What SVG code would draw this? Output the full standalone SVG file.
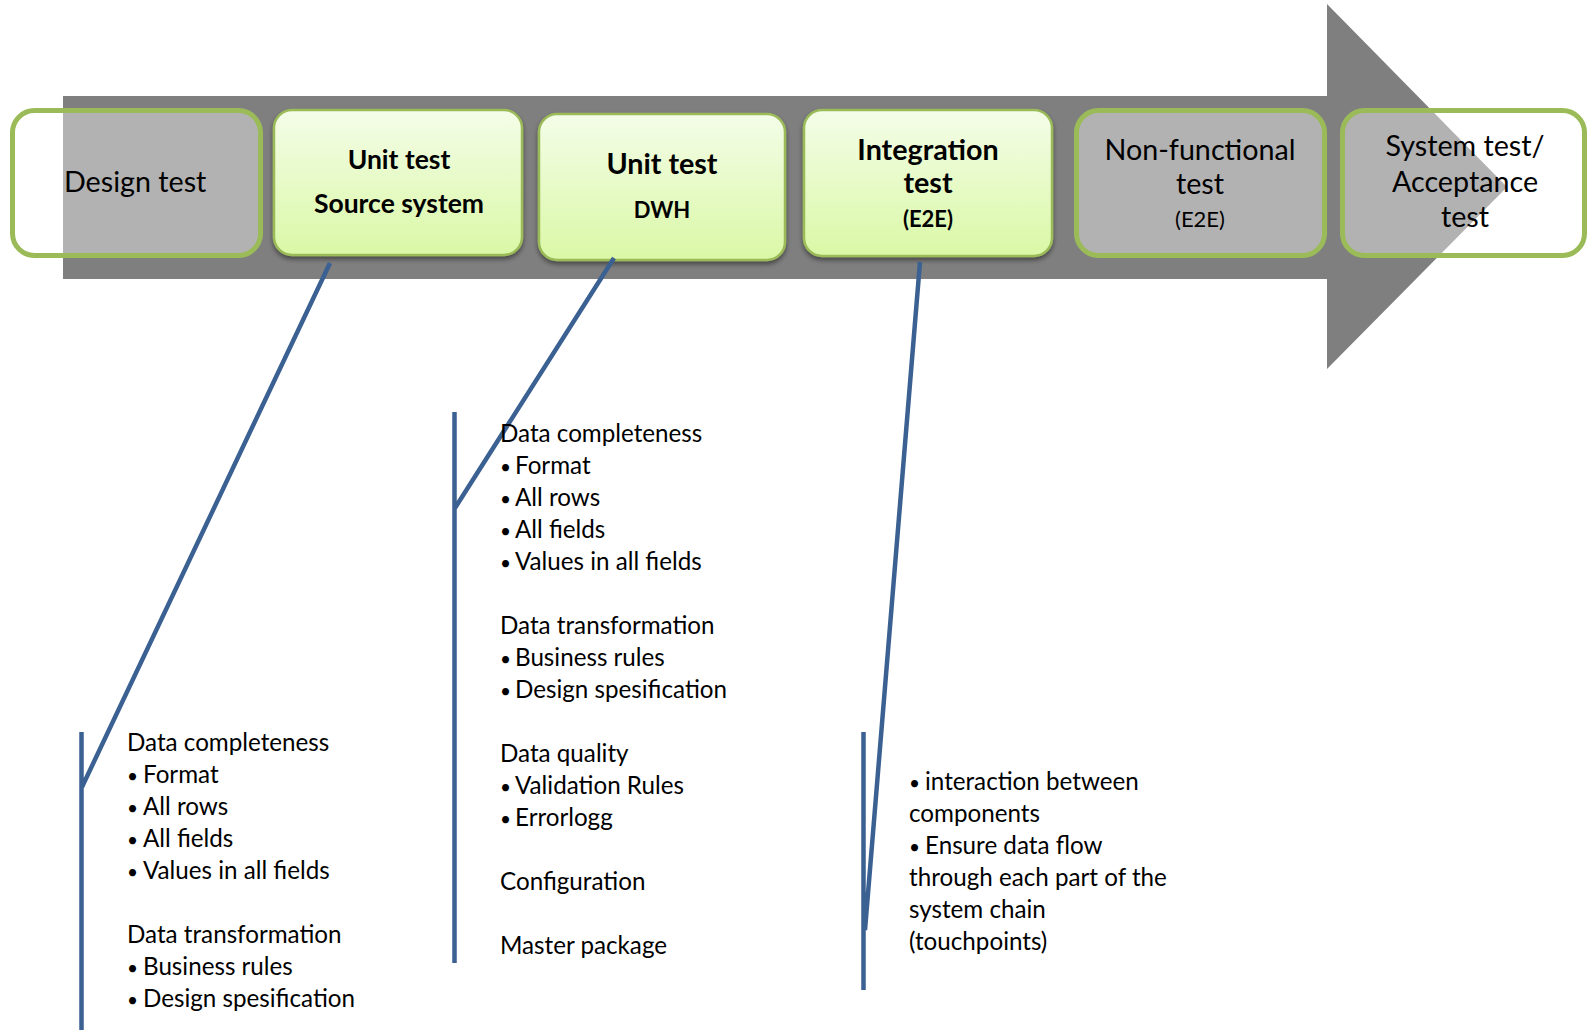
<svg xmlns="http://www.w3.org/2000/svg" width="1589" height="1030" viewBox="0 0 1589 1030">
  <defs>
    <linearGradient id="greenFill" x1="0" y1="0" x2="0" y2="1">
      <stop offset="0" stop-color="#F4FDE8"/>
      <stop offset="1" stop-color="#DAF8A6"/>
    </linearGradient>
    <filter id="shadow" x="-10%" y="-10%" width="120%" height="130%">
      <feDropShadow dx="0" dy="3" stdDeviation="2.5" flood-color="#000" flood-opacity="0.45"/>
    </filter>
    <style>
      .stage { fill: #7F7F7F; }
      .open { fill: #FFFFFF; fill-opacity: 0.4; stroke: #9BBB59; stroke-width: 5; }
      .active { fill: url(#greenFill); stroke: #9BBB59; stroke-width: 2.5; filter: url(#shadow); }
      .t { font-family: Lato, "Open Sans", "Liberation Sans", sans-serif; fill: #000; }
      .big { font-size: 28.7px; }
      .mid { font-size: 26.5px; }
      .sm { font-size: 22px; }
      .b { font-weight: bold; }
      .c { text-anchor: middle; }
      .body { font-size: 24.2px; }
      .bul { font-size: 19px; }
      .lead { fill: none; stroke: #3B6092; stroke-width: 4.5; }
    </style>
  </defs>

  <!-- process arrow -->
  <polygon class="stage" points="63,96 1327,96 1327,4 1507,187 1327,369 1327,279 63,279"/>

  <!-- stage boxes -->
  <g id="design-test">
    <rect class="open" x="12.5" y="110.5" width="248" height="145" rx="22"/>
    <text class="t big" x="64" y="192">Design test</text>
  </g>
  <g id="unit-test-source">
    <rect class="active" x="274" y="110" width="248" height="145" rx="18"/>
    <text class="t mid b c" x="399" y="169">Unit test</text>
    <text class="t mid b c" x="399" y="213">Source system</text>
  </g>
  <g id="unit-test-dwh">
    <rect class="active" x="539" y="114" width="246" height="146" rx="18"/>
    <text class="t big b c" x="662" y="174">Unit test</text>
    <text class="t sm b c" x="662" y="218">DWH</text>
  </g>
  <g id="integration-test">
    <rect class="active" x="804" y="110" width="248" height="146" rx="18"/>
    <text class="t big b c" x="928" y="160">Integration</text>
    <text class="t big b c" x="928" y="193">test</text>
    <text class="t sm b c" x="928" y="227">(E2E)</text>
  </g>
  <g id="non-functional-test">
    <rect class="open" x="1076.5" y="110.5" width="248" height="145" rx="22"/>
    <text class="t big c" x="1200" y="160">Non-functional</text>
    <text class="t big c" x="1200" y="194">test</text>
    <text class="t sm c" x="1200" y="227">(E2E)</text>
  </g>
  <g id="system-acceptance-test">
    <rect class="open" x="1342.5" y="110.5" width="242" height="145" rx="22"/>
    <text class="t big c" x="1465" y="156">System test/</text>
    <text class="t big c" x="1465" y="192">Acceptance</text>
    <text class="t big c" x="1465" y="227">test</text>
  </g>

  <!-- callout leaders -->
  <g id="connectors">
    <path class="lead" d="M330,263 L82,787 M81.5,732 V1030"/>
    <path class="lead" d="M614,258 L455,508 M454.5,412 V963"/>
    <path class="lead" d="M920,262 L865,930 M863.5,732 V990"/>
  </g>

  <!-- detail lists -->
  <g id="source-details" class="t body">
    <text x="127" y="751">Data completeness</text>
    <text x="127" y="783"><tspan class="bul">•</tspan><tspan x="143">Format</tspan></text>
    <text x="127" y="815"><tspan class="bul">•</tspan><tspan x="143">All rows</tspan></text>
    <text x="127" y="847"><tspan class="bul">•</tspan><tspan x="143">All fields</tspan></text>
    <text x="127" y="879"><tspan class="bul">•</tspan><tspan x="143">Values in all fields</tspan></text>
    <text x="127" y="943">Data transformation</text>
    <text x="127" y="975"><tspan class="bul">•</tspan><tspan x="143">Business rules</tspan></text>
    <text x="127" y="1007"><tspan class="bul">•</tspan><tspan x="143">Design spesification</tspan></text>
  </g>
  <g id="dwh-details" class="t body">
    <text x="500" y="442">Data completeness</text>
    <text x="500" y="474"><tspan class="bul">•</tspan><tspan x="515">Format</tspan></text>
    <text x="500" y="506"><tspan class="bul">•</tspan><tspan x="515">All rows</tspan></text>
    <text x="500" y="538"><tspan class="bul">•</tspan><tspan x="515">All fields</tspan></text>
    <text x="500" y="570"><tspan class="bul">•</tspan><tspan x="515">Values in all fields</tspan></text>
    <text x="500" y="634">Data transformation</text>
    <text x="500" y="666"><tspan class="bul">•</tspan><tspan x="515">Business rules</tspan></text>
    <text x="500" y="698"><tspan class="bul">•</tspan><tspan x="515">Design spesification</tspan></text>
    <text x="500" y="762">Data quality</text>
    <text x="500" y="794"><tspan class="bul">•</tspan><tspan x="515">Validation Rules</tspan></text>
    <text x="500" y="826"><tspan class="bul">•</tspan><tspan x="515">Errorlogg</tspan></text>
    <text x="500" y="890">Configuration</text>
    <text x="500" y="954">Master package</text>
  </g>
  <g id="integration-details" class="t body">
    <text x="909" y="790"><tspan class="bul">•</tspan><tspan x="925">interaction between</tspan></text>
    <text x="909" y="822">components</text>
    <text x="909" y="854"><tspan class="bul">•</tspan><tspan x="925">Ensure data flow</tspan></text>
    <text x="909" y="886">through each part of the</text>
    <text x="909" y="918">system chain</text>
    <text x="909" y="950">(touchpoints)</text>
  </g>
</svg>
